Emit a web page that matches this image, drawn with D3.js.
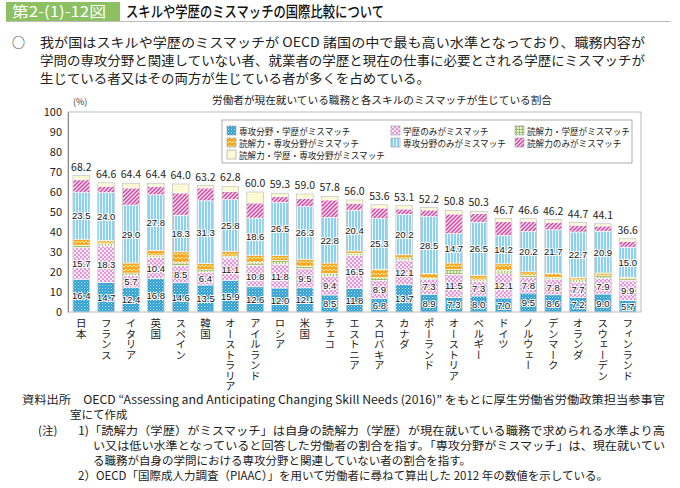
<!DOCTYPE html>
<html><head><meta charset="utf-8">
<script src="https://cdn.jsdelivr.net/npm/d3@7"></script>
<style>
html,body{margin:0;padding:0;background:#fff;}
svg{display:block;font-family:"Noto Sans CJK JP","Noto Sans",sans-serif;}
</style></head>
<body>
<svg id="c" width="680" height="488"></svg>
<script>
const categories = ["日本","フランス","イタリア","英国","スペイン","韓国","オーストラリア","アイルランド","ロシア","米国","チェコ","エストニア","スロバキア","カナダ","ポーランド","オーストリア","ベルギー","ドイツ","ノルウェー","デンマーク","オランダ","スウェーデン","フィンランド"];
const totals = [68.2,64.6,64.4,64.4,64.0,63.2,62.8,60.0,59.3,59.0,57.8,56.0,53.6,53.1,52.2,50.8,50.3,46.7,46.6,46.2,44.7,44.1,36.6];
const majorDegree = [16.4,14.7,12.4,16.8,14.6,13.5,15.9,12.6,12.0,12.1,8.5,11.8,6.8,13.7,8.9,7.3,8.0,7.0,9.5,8.6,7.2,9.0,5.7];
const degreeOnly = [15.7,18.3,5.7,10.4,8.5,6.4,11.1,10.8,11.8,9.5,9.4,16.5,8.9,12.1,7.3,11.5,7.3,12.1,7.8,7.8,7.7,7.9,9.9];
const litDegree = [1.3,1.2,1.4,1.0,1.5,1.2,1.0,1.5,2.0,1.2,1.4,1.0,1.5,1.2,0.8,2.5,0.8,1.8,1.0,1.0,1.2,1.2,1.0];
const litMajor = [3.0,1.5,5.0,2.6,5.5,3.2,2.4,3.5,2.5,3.6,5.2,1.2,4.2,1.6,2.2,3.2,2.3,3.2,1.8,2.0,1.2,1.4,0.8];
const majorOnly = [23.5,24.0,29.0,27.8,18.3,31.3,25.8,18.6,26.5,26.3,22.8,20.4,25.3,20.2,28.5,14.7,26.5,14.2,20.2,21.7,22.7,20.9,15.0];
const litOnly = [6.2,3.2,8.5,4.2,11.1,6.4,4.1,7.5,2.9,4.1,8.7,3.5,5.3,2.7,3.3,9.8,4.4,6.9,5.0,3.8,3.4,2.6,3.0];
const allThree = [2.1,1.7,2.4,1.6,4.5,1.2,2.5,5.5,1.6,2.2,1.8,1.6,1.6,1.6,1.2,1.8,1.0,1.5,1.3,1.3,1.3,1.1,1.2];
const yTicks = [0,10,20,30,40,50,60,70,80,90,100];

const seriesNames = ["専攻分野・学歴がミスマッチ","学歴のみがミスマッチ","読解力・学歴がミスマッチ","読解力・専攻分野がミスマッチ","専攻分野のみがミスマッチ","読解力のみがミスマッチ","読解力・学歴・専攻分野がミスマッチ"];
const seriesData = [majorDegree, degreeOnly, litDegree, litMajor, majorOnly, litOnly, allThree];
const labeled = [true,true,false,false,true,false,false];
const patIds = ["p0","p1","p2","p3","p4","p5","p6"];
const legendOrder = [0,1,2,3,4,5,6];

const svg = d3.select("#c");
const defs = svg.append("defs");

function pat(id,w,h){ return defs.append("pattern").attr("id",id).attr("patternUnits","userSpaceOnUse").attr("width",w).attr("height",h); }
let p;
p = pat("p0",3,3); p.append("rect").attr("width",3).attr("height",3).attr("fill","#2f9fd0");
p.append("rect").attr("x",0).attr("y",0).attr("width",1).attr("height",1).attr("fill","#bfe6f5");
p.append("rect").attr("x",1.5).attr("y",1.5).attr("width",1).attr("height",1).attr("fill","#9fd8ef");
p = pat("p1",4,4); p.append("rect").attr("width",4).attr("height",4).attr("fill","#fbe6f6");
p.append("rect").attr("x",0).attr("y",0).attr("width",2).attr("height",2).attr("fill","#e29ad6");
p.append("rect").attr("x",2).attr("y",2).attr("width",2).attr("height",2).attr("fill","#e29ad6");
p = pat("p2",3,3); p.append("rect").attr("width",3).attr("height",3).attr("fill","#eef3dc");
p.append("path").attr("d","M0,0.5H3M0.5,0V3").attr("stroke","#9cbf6a").attr("stroke-width",1);
p = pat("p3",4,4); p.append("rect").attr("width",4).attr("height",4).attr("fill","#f7a823");
p.append("path").attr("d","M0,3L2,1L4,3").attr("stroke","#fde79a").attr("stroke-width",1).attr("fill","none");
p = pat("p4",3,3); p.append("rect").attr("width",3).attr("height",3).attr("fill","#8ed0ee");
p.append("rect").attr("x",0).attr("width",1).attr("height",3).attr("fill","#e9f6fc");
p = pat("p5",4,4); p.append("rect").attr("width",4).attr("height",4).attr("fill","#fbe3f3");
p.append("path").attr("d","M-1,1L1,-1M0,4L4,0M3,5L5,3").attr("stroke","#d2479f").attr("stroke-width",1.5);
p = pat("p6",4,4); p.append("rect").attr("width",4).attr("height",4).attr("fill","#fcfad2");

// header
svg.append("rect").attr("x",6).attr("y",2).attr("width",114).attr("height",19).attr("fill","#8cc063");
svg.append("text").attr("x",12).attr("y",17).attr("fill","#fff").attr("font-size",15)
  .attr("textLength",94).attr("lengthAdjust","spacingAndGlyphs").text("第2-(1)-12図");
svg.append("text").attr("x",126).attr("y",17).attr("fill","#111").attr("font-size",15).attr("font-weight",500)
  .attr("textLength",258).attr("lengthAdjust","spacingAndGlyphs").text("スキルや学歴のミスマッチの国際比較について");
svg.append("line").attr("x1",6).attr("x2",670).attr("y1",21.5).attr("y2",21.5).attr("stroke","#bbb");

const para = ["我が国はスキルや学歴のミスマッチが OECD 諸国の中で最も高い水準となっており、職務内容が",
 "学問の専攻分野と関連していない者、就業者の学歴と現在の仕事に必要とされる学歴にミスマッチが",
 "生じている者又はその両方が生じている者が多くを占めている。"];
const paraLen = [605,605,390];
svg.append("text").attr("x",12).attr("y",47).attr("font-size",13).attr("fill","#222").text("○");
para.forEach((t,i)=>{
  svg.append("text").attr("x",40).attr("y",47+i*18).attr("font-size",13).attr("fill","#222")
    .attr("textLength",paraLen[i]).attr("lengthAdjust","spacingAndGlyphs").text(t);
});

svg.append("text").attr("x",212).attr("y",104).attr("font-size",10).attr("fill","#222")
  .attr("textLength",340).attr("lengthAdjust","spacingAndGlyphs")
  .text("労働者が現在就いている職務と各スキルのミスマッチが生じている割合");

// chart
const x0=68, x1=641, yTop=112, yBot=312;
const x = d3.scaleBand().domain(categories).range([x0,x1]).paddingInner(0.33).paddingOuter(0.2);
const y = d3.scaleLinear().domain([0,100]).range([yBot,yTop]);

svg.append("rect").attr("x",x0).attr("y",yTop).attr("width",x1-x0).attr("height",yBot-yTop).attr("fill","none").attr("stroke","#aaa").attr("stroke-width",0.8);

const yAxis = svg.append("g").attr("transform",`translate(${x0},0)`)
  .call(d3.axisLeft(y).tickValues(yTicks).tickSize(0).tickPadding(6));
yAxis.select(".domain").attr("stroke","#888");
yAxis.selectAll("text").attr("font-size",11).attr("fill","#222").attr("font-family","'Noto Sans CJK JP',sans-serif");
svg.append("text").attr("x",73).attr("y",105).attr("font-size",9).attr("fill","#333").text("(%)");

const rows = categories.map((c,i)=>{ const o={cat:c}; seriesData.forEach((s,k)=>o["s"+k]=s[i]); return o; });
const stack = d3.stack().keys(seriesData.map((s,k)=>"s"+k));
const stacked = stack(rows);

const g = svg.append("g");
stacked.forEach((layer,k)=>{
  g.selectAll(null).data(layer).enter().append("rect")
    .attr("x",d=>x(d.data.cat)).attr("width",x.bandwidth())
    .attr("y",d=>y(d[1])).attr("height",d=>y(d[0])-y(d[1]))
    .attr("fill",`url(#${patIds[k]})`).attr("stroke","#fff").attr("stroke-width",0.6);
});
g.selectAll(null).data(categories).enter().append("rect")
  .attr("x",c=>x(c)).attr("width",x.bandwidth())
  .attr("y",(c,i)=>y(totals[i])).attr("height",(c,i)=>y(0)-y(totals[i]))
  .attr("fill","none").attr("stroke","#b5b5b5").attr("stroke-width",0.6);

stacked.forEach((layer,k)=>{
  if(!labeled[k]) return;
  g.selectAll(null).data(layer).enter().append("text")
    .attr("x",d=>x(d.data.cat)+x.bandwidth()/2)
    .attr("y",d=>y((d[0]+d[1])/2)+3.5)
    .attr("text-anchor","middle").attr("font-size",9.5).attr("fill","#111")
    .attr("stroke","#fff").attr("stroke-width",2).attr("paint-order","stroke")
    .attr("font-family","'Liberation Sans',sans-serif")
    .text(d=>(d[1]-d[0]).toFixed(1));
});
g.selectAll(null).data(categories).enter().append("text")
  .attr("x",c=>x(c)+x.bandwidth()/2).attr("y",(c,i)=>y(totals[i])-5)
  .attr("text-anchor","middle").attr("font-size",10.5).attr("fill","#222")
  .text((c,i)=>totals[i].toFixed(1));

g.selectAll(null).data(categories).enter().append("text")
  .attr("x",c=>x(c)+x.bandwidth()/2).attr("y",318)
  .attr("writing-mode","vertical-rl").attr("font-size",10.5).attr("fill","#222")
  .style("text-orientation","upright")
  .text(c=>c);

// legend
const lg = svg.append("g");
lg.append("rect").attr("x",222).attr("y",120).attr("width",410).attr("height",43).attr("fill","#fff").attr("stroke","#999").attr("stroke-width",0.8);
const colX=[227,391,515], rowY=[126,138,150];
legendOrder.forEach((k,i)=>{
  const cx=colX[i%3], cy=rowY[Math.floor(i/3)];
  lg.append("rect").attr("x",cx).attr("y",cy).attr("width",9).attr("height",9).attr("fill",`url(#${patIds[k]})`).attr("stroke","#999").attr("stroke-width",0.6);
  lg.append("text").attr("x",cx+12).attr("y",cy+8.5).attr("font-size",8.6).attr("fill","#222").text(seriesNames[k]);
});

// footnotes
const fn = svg.append("g").attr("font-size",11.5).attr("fill","#222");
fn.append("text").attr("x",22).attr("y",404).attr("textLength",643).attr("lengthAdjust","spacingAndGlyphs")
  .text("資料出所　OECD “Assessing and Anticipating Changing Skill Needs (2016)” をもとに厚生労働省労働政策担当参事官");
fn.append("text").attr("x",70).attr("y",419).text("室にて作成");
fn.append("text").attr("x",38).attr("y",435).text("(注)");
fn.append("text").attr("x",78).attr("y",435).attr("textLength",587).attr("lengthAdjust","spacingAndGlyphs")
  .text("1)「読解力（学歴）がミスマッチ」は自身の読解力（学歴）が現在就いている職務で求められる水準より高");
fn.append("text").attr("x",93).attr("y",450).attr("textLength",572).attr("lengthAdjust","spacingAndGlyphs")
  .text("い又は低い水準となっていると回答した労働者の割合を指す。「専攻分野がミスマッチ」は、現在就いてい");
fn.append("text").attr("x",93).attr("y",465).text("る職務が自身の学問における専攻分野と関連していない者の割合を指す。");
fn.append("text").attr("x",78).attr("y",480).text("2）OECD「国際成人力調査（PIAAC）」を用いて労働者に尋ねて算出した 2012 年の数値を示している。");
</script>
</body></html>
